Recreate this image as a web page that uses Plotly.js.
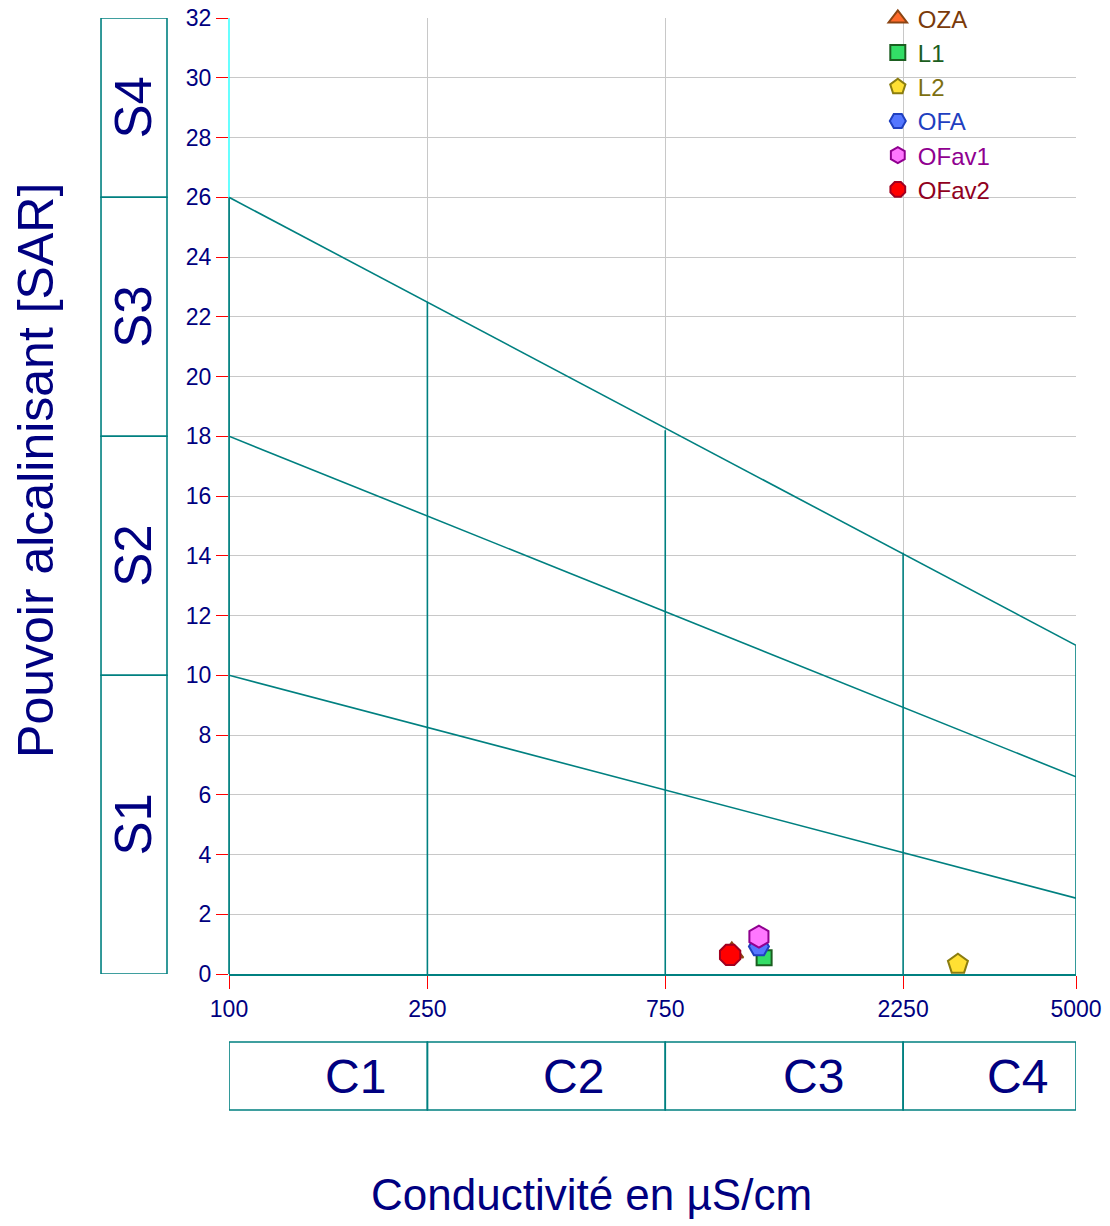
<!DOCTYPE html>
<html>
<head>
<meta charset="utf-8">
<script src="https://cdn.plot.ly/plotly-3.0.1.min.js"></script>
<style>html,body{margin:0;padding:0;background:#fff;}#chart{width:1110px;height:1226px;}</style>
</head>
<body>
<div id="chart"></div>
<script>
// ---- Data ----
const sampleNames = ["OZA", "L1", "L2", "OFA", "OFav1", "OFav2"];
const conductivity = [1020, 1184, 2898, 1156, 1156, 1012];   // µS/cm
const sar = [0.72, 0.54, 0.33, 0.92, 1.25, 0.64];
const symbols = ["triangle-up", "square", "pentagon", "hexagon2", "hexagon", "octagon"];
const fillColors = ["#ff6a2a", "#33dd66", "#ffe033", "#5577ff", "#ff77ff", "#ff0000"];
const edgeColors = ["#8b4513", "#1b5e20", "#8b7d10", "#2040c0", "#900090", "#a00020"];
const textColors = ["#7a3a0a", "#1b5e20", "#7d7010", "#1f3fc0", "#900090", "#900020"];
const markerSizes = [20, 15, 21, 20, 22, 22];

// Class boundaries (Richards diagram)
const ecBounds = [100, 250, 750, 2250, 5000];
const classLabels = ["C1", "C2", "C3", "C4"];
const sarBoundsLeft = [10, 18, 26];     // at EC = 100
const sarBoundsRight = [2.54, 6.6, 11]; // at EC = 5000
const verticalTops = [26, 22.5, 18.2, 14.1, 11];
const sClassBounds = [0, 10, 18, 26, 32];
const sClassLabels = ["S1", "S2", "S3", "S4"];
const sLabelCenters = [5, 14, 22, 29];
const cLabelPos = [179, 492, 1484, 3810];
const xTicks = [100, 250, 750, 2250, 5000];
const yTicks = [0, 2, 4, 6, 8, 10, 12, 14, 16, 18, 20, 22, 24, 26, 28, 30, 32];

const NAVY = "#000080";
const TEAL = "#008080";
const FONT = "Liberation Sans, Arial, sans-serif";

const traces = [];
// diagonal boundaries
for (let i = 0; i < sarBoundsLeft.length; i++) {
  traces.push({
    x: [ecBounds[0], ecBounds[ecBounds.length - 1]],
    y: [sarBoundsLeft[i], sarBoundsRight[i]],
    mode: "lines", line: {color: TEAL, width: 1.6},
    showlegend: false, hoverinfo: "skip"
  });
}
// vertical boundaries
for (let i = 0; i < ecBounds.length; i++) {
  traces.push({
    x: [ecBounds[i], ecBounds[i]],
    y: [0, verticalTops[i]],
    mode: "lines", line: {color: TEAL, width: 1.6},
    showlegend: false, hoverinfo: "skip"
  });
}
// samples
for (let i = 0; i < sampleNames.length; i++) {
  traces.push({
    x: [conductivity[i]], y: [sar[i]],
    mode: "markers", type: "scatter",
    name: '<span style="color:' + textColors[i] + '">' + sampleNames[i] + '</span>',
    marker: {symbol: symbols[i], size: markerSizes[i], color: fillColors[i],
             line: {color: edgeColors[i], width: 2}}
  });
}

const shapes = [];
const annotations = [];
// left axis line: teal along the S1-S3 range, cyan above
shapes.push({type: "line", xref: "paper", yref: "y", x0: 0, x1: 0,
  y0: sClassBounds[0], y1: verticalTops[0], line: {color: TEAL, width: 1.6}});
shapes.push({type: "line", xref: "paper", yref: "y", x0: 0, x1: 0,
  y0: verticalTops[0], y1: sClassBounds[4], line: {color: "#00ffff", width: 1.2}});
// S boxes on the left
for (let i = 0; i < sClassLabels.length; i++) {
  shapes.push({type: "rect", xref: "paper", yref: "y",
    x0: -0.1511, x1: -0.0732, y0: sClassBounds[i], y1: sClassBounds[i + 1],
    line: {color: TEAL, width: 1.6}});
  annotations.push({xref: "paper", yref: "y", x: -0.1122, y: sLabelCenters[i],
    xanchor: "center", yanchor: "middle",
    text: sClassLabels[i], showarrow: false, textangle: -90,
    font: {family: FONT, size: 51, color: NAVY}});
}
// C boxes below
for (let i = 0; i < classLabels.length; i++) {
  shapes.push({type: "rect", xref: "x", yref: "paper",
    x0: ecBounds[i], x1: ecBounds[i + 1],
    y0: -0.1423, y1: -0.0711, line: {color: TEAL, width: 1.6}});
  annotations.push({xref: "x", yref: "paper", x: Math.log10(cLabelPos[i]), y: -0.1067,
    xanchor: "center", yanchor: "middle",
    text: classLabels[i], showarrow: false,
    font: {family: FONT, size: 48, color: NAVY}});
}
// axis titles
annotations.push({xref: "paper", yref: "paper", x: 0.4274, y: -0.231,
  xanchor: "center", yanchor: "middle",
  text: "Conductivité en µS/cm", showarrow: false,
  font: {family: FONT, size: 44, color: NAVY}});
annotations.push({xref: "paper", yref: "paper", x: -0.2279, y: 0.5272,
  xanchor: "center", yanchor: "middle",
  text: "Pouvoir alcalinisant [SAR]", showarrow: false, textangle: -90,
  font: {family: FONT, size: 50, color: NAVY}});

const tickFont = {family: FONT, size: 23, color: NAVY};

const layout = {
  width: 1110, height: 1226,
  margin: {l: 229, r: 34, t: 18, b: 252, autoexpand: false},
  paper_bgcolor: "#ffffff", plot_bgcolor: "#ffffff",
  showlegend: true,
  legend: {x: 0.766, xanchor: "left", y: 1.0227, yanchor: "top",
    bgcolor: "rgba(0,0,0,0)", borderwidth: 0, tracegroupgap: 0,
    itemsizing: "trace",
    font: {family: FONT, size: 24, color: NAVY}},
  xaxis: {type: "log", range: [Math.log10(100), Math.log10(5000)],
    tickmode: "array", tickvals: xTicks, ticktext: xTicks.map(String),
    showgrid: true, gridcolor: "#c8c8c8", gridwidth: 1,
    showline: true, linecolor: TEAL, linewidth: 2, layer: "below traces",
    ticks: "outside", ticklen: 13, tickcolor: "#ff0000", tickwidth: 1,
    tickfont: tickFont, zeroline: false},
  yaxis: {range: [0, 32], tickmode: "array", tickvals: yTicks,
    showgrid: true, gridcolor: "#c8c8c8", gridwidth: 1,
    showline: false,
    ticks: "outside", ticklen: 12, tickcolor: "#ff0000", tickwidth: 1,
    tickfont: tickFont, zeroline: false},
  shapes: shapes,
  annotations: annotations
};

Plotly.newPlot("chart", traces, layout, {displayModeBar: false, staticPlot: true});
</script>
</body>
</html>
